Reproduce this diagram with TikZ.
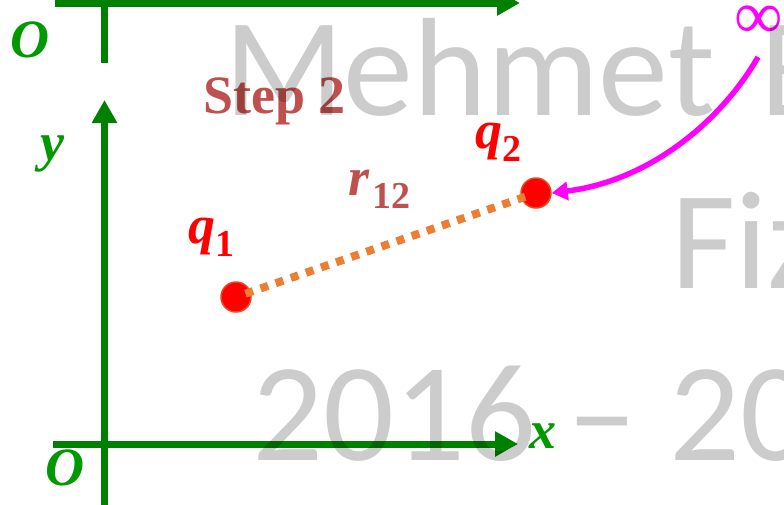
\documentclass[tikz,border=0pt]{standalone}
\usepackage{fontspec}
\setmainfont{Liberation Serif}
\newfontfamily\wmfont{Carlito}
\usetikzlibrary{arrows.meta}
\definecolor{axisgreen}{RGB}{0,128,0}
\definecolor{labgreen}{RGB}{0,153,0}
\definecolor{stepred}{RGB}{192,80,77}
\definecolor{chargered}{RGB}{255,0,0}
\definecolor{chargeedge}{RGB}{235,70,30}
\definecolor{dotorange}{RGB}{237,125,49}
\definecolor{infmag}{RGB}{255,0,255}
\newcommand{\labfont}{\fontsize{54}{60}\selectfont\bfseries\itshape}
\newcommand{\subfont}{\fontsize{38}{40}\selectfont\bfseries\upshape}
\newcommand{\mysub}[1]{\raisebox{-13pt}{\subfont #1}}
\tikzset{
  axisline/.style={axisgreen, line width=7pt},
  axisarrow/.style={axisline, -{Triangle[length=23pt,width=24pt]}},
  axislabel/.style={labgreen, inner sep=0pt, font=\labfont},
  chargelabel/.style={chargered, inner sep=0pt, anchor=base west, font=\labfont},
  charge/.style={circle, minimum size=30pt, inner sep=0pt, fill=chargered, draw=chargeedge, line width=1.5pt},
  distline/.style={dotorange, line width=8pt, dash pattern=on 8pt off 8pt},
  wmark/.style={black, opacity=0.2, inner sep=0pt, anchor=base west, font=\wmfont\fontsize{140}{140}\selectfont},
}
\begin{document}
\begin{tikzpicture}[x=1pt,y=-1pt]
\useasboundingbox (0,0) rectangle (784,504);
\clip (0,0) rectangle (784,504);
\fill[white] (0,0) rectangle (784,504);
% top (previous) axes
\coordinate (tl) at (55,3);
\coordinate (tr) at (520,3);
\coordinate (tt) at (104.5,-5);
\coordinate (tb) at (104.5,63);
\draw[axisarrow] (tl) -- (tr);
\draw[axisline] (tt) -- (tb);
\node[axislabel] (otop) at (30,40) {O};
% main axes
\coordinate (ybot) at (104.5,510);
\coordinate (ytop) at (104.5,100);
\coordinate (xl) at (53,444);
\coordinate (xr) at (518,444);
\draw[axisarrow] (ybot) -- (ytop);
\draw[axisarrow] (xl) -- (xr);
\node[axislabel] (ylab) at (52,154) {y};
\node[axislabel] (xlab) at (543,436) {x};
\node[axislabel] (obot) at (65,468) {O};
% step title
\node[stepred, inner sep=0pt, anchor=base west, font=\fontsize{54}{60}\selectfont\bfseries] (step) at (203,113) {Step 2};
% charges
\node[charge] (q1) at (236,297) {};
\node[charge] (q2) at (536,193) {};
\draw[distline, shorten <=10pt, shorten >=10pt] (q1.center) -- (q2.center);
\node[chargelabel] (q1lab) at (188,243) {q\mysub{1}};
\node[chargelabel] (q2lab) at (475,148) {q\mysub{2}};
\node[stepred, inner sep=0pt, anchor=base west, font=\labfont] (rlab) at (348,195) {r\kern3pt\mysub{12}};
% infinity and path
\node[infmag, inner sep=0pt, font=\fontsize{68}{68}\selectfont] (inf) at (759,22) {∞};
\coordinate (istart) at (758,57);
\draw[infmag, line width=5.5pt, -{Triangle[length=16pt,width=18pt]}] (istart) .. controls (725,115) and (655,180) .. (q2.east);
% watermark
\node[wmark] (w1) at (224,115) {Mehmet\hspace{46pt}B};
\node[wmark] (w2) at (671,288) {Fizik};
\node[wmark] (w3) at (252,460) {2016 – 2017};
\end{tikzpicture}
\end{document}
